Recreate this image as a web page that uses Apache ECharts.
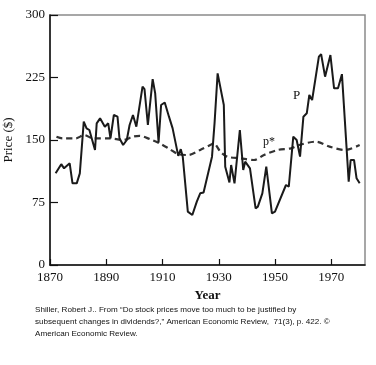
<!DOCTYPE html>
<html>
<head>
<meta charset="utf-8">
<script src="https://cdn.jsdelivr.net/npm/echarts@6/dist/echarts.min.js"></script>
<style>html,body{margin:0;padding:0;background:#fff}#c{width:376px;height:365px}</style>
</head>
<body>
<div id="c"></div>
<script>
// Actual real stock price index P (years, values)
var pYears = [1872,1874,1875,1877,1878,1879.5,1880.6,1882,1883,1884,1886,1886.6,1887.8,1889.5,1890.7,1891.5,1892.7,1894,1894.7,1896,1897.3,1898.3,1899.5,1900.7,1902.9,1903.6,1904.8,1906.5,1907.4,1908.6,1909.5,1910.8,1912.3,1913.6,1915.6,1916.5,1917.2,1919,1920.6,1922.2,1923.4,1924.6,1927.6,1928.5,1929.6,1931.8,1932.3,1933.8,1934.4,1935.6,1937.5,1938.7,1939.4,1941.1,1943.1,1943.9,1945.5,1946.9,1948.9,1950,1953.9,1954.9,1956.5,1957.7,1958.9,1960.1,1961.3,1962.2,1963.2,1965.6,1966.4,1967.8,1969.7,1971,1972.4,1973.8,1976.2,1976.9,1978.1,1979,1980.1];
var pValues = [110,121,116,122,98,98,110,172,164,162,138,170,176,166,170,152,180,178,152,144,150,168,180,166,214,211,168,223,206,147,192,195,178,164,131,139,130,64,60,76,86,87,130,170,230,192,118,99,120,98,162,114,124,116,68,70,86,118,62,64,96,94,154,150,130,178,182,204,198,250,253,226,252,212,212,229,100,126,126,104,98];
// Ex-post rational price P*
var sYears = [1872.3,1874.5,1879.2,1882.2,1885.2,1891.1,1896,1899.5,1901.9,1905.5,1909,1912.6,1915.6,1919.2,1923.4,1927,1928.2,1930.6,1933,1937.7,1942.5,1946.1,1950.9,1955.7,1958.6,1964.6,1969.4,1974.8,1980.1];
var sValues = [154,152,152,156,152,152,150,154,155,151,146,139,133,132,138,144,146,136,130,128,126,132,138,140,144,148,142,138,144];
var xTicks = [1870,1890,1910,1930,1950,1970];
var yTicks = [0,75,150,225,300];

function pairs(xs, ys){ return xs.map(function(x,i){ return [x, ys[i]]; }); }

var serif = '"Liberation Serif","DejaVu Serif",serif';
var chart = echarts.init(document.getElementById('c'));
chart.setOption({
  animation: false,
  backgroundColor: '#fff',
  grid: {left: 50, top: 15, right: 11, bottom: 100, containLabel: false, outerBoundsMode: 'none',
    show: true, borderColor: '#8a8a8a', borderWidth: 1.5, backgroundColor: 'transparent'},
  xAxis: {
    type: 'value', min: 1870, max: 1982, interval: 20,
    name: 'Year', nameLocation: 'middle', nameGap: 24,
    nameTextStyle: {fontFamily: serif, fontSize: 13, fontWeight: 'bold', color: '#111'},
    axisLine: {show: true, lineStyle: {color: '#111', width: 1.5}},
    axisTick: {show: true, inside: true, length: 6, lineStyle: {color: '#111', width: 1.2}},
    axisLabel: {fontFamily: serif, fontSize: 13, color: '#111', margin: 6, showMaxLabel: false,
      formatter: function(v){ return xTicks.indexOf(v) >= 0 ? String(v) : ''; }},
    splitLine: {show: false}
  },
  yAxis: {
    type: 'value', min: 0, max: 300, interval: 75,
    name: 'Price ($)', nameLocation: 'middle', nameGap: 29,
    nameTextStyle: {fontFamily: serif, fontSize: 13, color: '#111'},
    axisLine: {show: true, lineStyle: {color: '#111', width: 1.5}},
    axisTick: {show: true, inside: true, length: 8, lineStyle: {color: '#111', width: 1.2}},
    axisLabel: {fontFamily: serif, fontSize: 13, color: '#111', margin: 5,
      formatter: function(v){ return yTicks.indexOf(v) >= 0 ? String(v) : ''; }},
    splitLine: {show: false}
  },
  series: [
    {type: 'line', data: pairs(sYears, sValues), symbol: 'none', smooth: 0.3,
     lineStyle: {color: '#333', width: 2.2, type: [6, 4]}, z: 2},
    {type: 'line', data: pairs(pYears, pValues), symbol: 'none',
     lineStyle: {color: '#1a1a1a', width: 2}, z: 3}
  ],
  graphic: [
    {type: 'text', left: 293, top: 89, style: {text: 'P', font: '13px ' + serif, fill: '#111'}},
    {type: 'text', left: 263, top: 136, style: {text: 'p*', font: '12px ' + serif, fill: '#111'}},
    {type: 'text', left: 35, top: 304, style: {
      text: 'Shiller, Robert J.. From \u201cDo stock prices move too much to be justified by\nsubsequent changes in dividends?,\u201d American Economic Review,  71(3), p. 422. \u00a9\nAmerican Economic Review.',
      font: '8.1px "Liberation Sans","DejaVu Sans",sans-serif', lineHeight: 12, fill: '#111'}}
  ]
});
</script>
</body>
</html>
